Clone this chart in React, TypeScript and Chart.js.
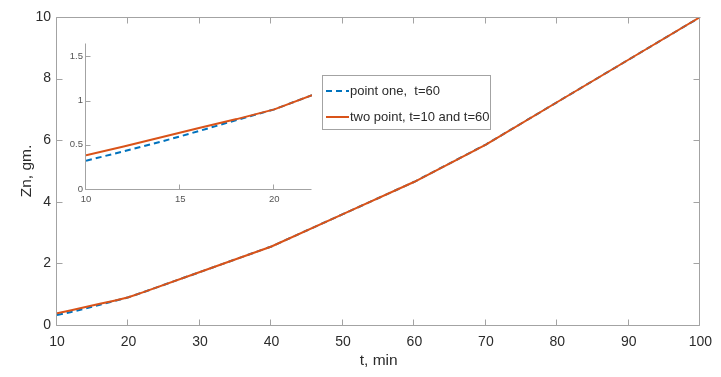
import React, { useEffect, useRef } from "react";
import { Chart, registerables } from "chart.js";

Chart.register(...registerables);

// ---- data ----
const times = [10, 12, 14, 16, 18, 20, 22, 30, 40, 50, 60, 70, 80, 90, 100];
const pointOne = [0.32, 0.425, 0.535, 0.655, 0.78, 0.9, 1.06, 1.72, 2.55, 3.6, 4.65, 5.86, 7.24, 8.62, 10];
const twoPoint = [0.38, 0.48, 0.585, 0.69, 0.79, 0.9, 1.06, 1.72, 2.55, 3.6, 4.65, 5.86, 7.24, 8.62, 10];
const seriesLabels = ["point one,  t=60", "two point, t=10 and t=60"];
const mainXTicks = [10, 20, 30, 40, 50, 60, 70, 80, 90, 100];
const mainYTicks = [0, 2, 4, 6, 8, 10];
const insetXTicks = [10, 15, 20];
const insetYTicks = [0, 0.5, 1, 1.5];

const FONT = "'Liberation Sans', Arial, Helvetica, sans-serif";
const BLUE = "#0072BD";
const ORANGE = "#D95319";
const AXIS = "#a3a3a3";
const TEXT = "#2b2b2b";

const axesPlugin = {
  id: "axesFrame",
  afterDraw(chart: any, _args: any, opts: any) {
    const { ctx, chartArea } = chart;
    const { left, right, top, bottom } = chartArea;
    const xs = chart.scales.x;
    const ys = chart.scales.y;
    const len = opts.tickLen || 5;
    ctx.save();
    ctx.strokeStyle = AXIS;
    ctx.lineWidth = 1;
    ctx.beginPath();
    const L = Math.round(left) - 0.5;
    const B = Math.round(bottom) + 0.5;
    const R = Math.round(right) - 0.5;
    const T = Math.round(top) + 0.5;
    ctx.moveTo(L, T);
    ctx.lineTo(L, B);
    ctx.lineTo(R, B);
    if (opts.box) {
      ctx.lineTo(R, T);
      ctx.lineTo(L, T);
    }
    xs.ticks.forEach((t: any) => {
      const px = Math.round(xs.getPixelForValue(t.value)) - 0.5;
      ctx.moveTo(px, B);
      ctx.lineTo(px, B - len);
      if (opts.box) {
        ctx.moveTo(px, T);
        ctx.lineTo(px, T + len);
      }
    });
    ys.ticks.forEach((t: any) => {
      const py = Math.round(ys.getPixelForValue(t.value)) + 0.5;
      ctx.moveTo(L, py);
      ctx.lineTo(L + len, py);
      if (opts.box) {
        ctx.moveTo(R, py);
        ctx.lineTo(R - len, py);
      }
    });
    ctx.stroke();

    if (opts.legend) {
      const lg = opts.legend;
      ctx.fillStyle = "#ffffff";
      ctx.fillRect(lg.x, lg.y, lg.w, lg.h);
      ctx.strokeStyle = AXIS;
      ctx.strokeRect(lg.x + 0.5, lg.y + 0.5, lg.w, lg.h);
      chart.data.datasets.forEach((ds: any, i: number) => {
        const cy = lg.y + lg.first + i * lg.gap;
        ctx.beginPath();
        ctx.strokeStyle = ds.borderColor;
        ctx.lineWidth = ds.borderWidth;
        ctx.setLineDash(ds.borderDash || []);
        ctx.moveTo(lg.x + 4, cy);
        ctx.lineTo(lg.x + 27, cy);
        ctx.stroke();
        ctx.setLineDash([]);
        ctx.fillStyle = TEXT;
        ctx.font = `13px ${FONT}`;
        ctx.textBaseline = "middle";
        ctx.textAlign = "left";
        ctx.fillText(ds.label, lg.x + 28, cy);
      });
    }
    ctx.restore();
  },
};

function makeDatasets() {
  return [
    {
      label: seriesLabels[0],
      data: times.map((t, i) => ({ x: t, y: pointOne[i] })),
      borderColor: BLUE,
      borderWidth: 2,
      borderDash: [6, 4],
      pointRadius: 0,
      tension: 0,
      fill: false,
      order: 1,
    },
    {
      label: seriesLabels[1],
      data: times.map((t, i) => ({ x: t, y: twoPoint[i] })),
      borderColor: ORANGE,
      borderWidth: 2,
      pointRadius: 0,
      tension: 0,
      fill: false,
      order: 0,
    },
  ];
}

export default function App() {
  const mainRef = useRef<HTMLCanvasElement>(null);
  const insetRef = useRef<HTMLCanvasElement>(null);

  useEffect(() => {
    const main = new Chart(mainRef.current as HTMLCanvasElement, {
      type: "line",
      data: { datasets: makeDatasets() as any },
      plugins: [axesPlugin],
      options: {
        animation: false,
        responsive: false,
        maintainAspectRatio: false,
        layout: { padding: { left: 0, top: 17, right: 16, bottom: 0 } },
        plugins: {
          legend: { display: false },
          tooltip: { enabled: false },
          axesFrame: {
            box: true,
            tickLen: 6,
            legend: { x: 322, y: 75, w: 168, h: 54, first: 16, gap: 26 },
          },
        } as any,
        scales: {
          x: {
            type: "linear",
            min: 10,
            max: 100,
            afterFit: (s: any) => { s.height = 52; },
            afterBuildTicks: (s: any) => { s.ticks = mainXTicks.map((v) => ({ value: v })); },
            grid: { display: false, drawTicks: false },
            border: { display: false },
            ticks: {
              padding: 9,
              color: TEXT,
              font: { size: 14, family: FONT },
              maxRotation: 0,
              autoSkip: false,
              callback: (v: any) => String(v),
            },
            title: {
              display: true,
              text: "t, min",
              color: TEXT,
              font: { size: 15.5, family: FONT },
              padding: { top: 0, bottom: 7 },
            },
          },
          y: {
            type: "linear",
            min: 0,
            max: 10,
            afterFit: (s: any) => { s.width = 57; },
            afterBuildTicks: (s: any) => { s.ticks = mainYTicks.map((v) => ({ value: v })); },
            grid: { display: false, drawTicks: false },
            border: { display: false },
            ticks: {
              padding: 6,
              color: TEXT,
              font: { size: 14, family: FONT },
              autoSkip: false,
              callback: (v: any) => String(v),
            },
            title: {
              display: true,
              text: "Zn, gm.",
              color: TEXT,
              font: { size: 15.5, family: FONT },
              padding: { top: 17, bottom: 0 },
            },
          },
        },
      } as any,
    });

    const inset = new Chart(insetRef.current as HTMLCanvasElement, {
      type: "line",
      data: { datasets: makeDatasets() as any },
      plugins: [axesPlugin],
      options: {
        animation: false,
        responsive: false,
        maintainAspectRatio: false,
        layout: { padding: { left: 0, top: 13, right: 14, bottom: 0 } },
        plugins: {
          legend: { display: false },
          tooltip: { enabled: false },
          axesFrame: { box: false, tickLen: 5 },
        } as any,
        scales: {
          x: {
            type: "linear",
            min: 10,
            max: 22,
            afterFit: (s: any) => { s.height = 26; },
            afterBuildTicks: (s: any) => { s.ticks = insetXTicks.map((v) => ({ value: v })); },
            grid: { display: false, drawTicks: false },
            border: { display: false },
            ticks: {
              padding: 5,
              color: "#555555",
              font: { size: 9.5, family: FONT },
              maxRotation: 0,
              autoSkip: false,
              callback: (v: any) => String(v),
            },
          },
          y: {
            type: "linear",
            min: 0,
            max: 1.65,
            afterFit: (s: any) => { s.width = 30; },
            afterBuildTicks: (s: any) => { s.ticks = insetYTicks.map((v) => ({ value: v })); },
            grid: { display: false, drawTicks: false },
            border: { display: false },
            ticks: {
              padding: 3,
              color: "#555555",
              font: { size: 9.5, family: FONT },
              autoSkip: false,
              callback: (v: any) => String(v),
            },
          },
        },
      } as any,
    });

    return () => {
      main.destroy();
      inset.destroy();
    };
  }, []);

  return (
    <div style={{ position: "fixed", left: 0, top: 0, width: 721, height: 377, background: "#ffffff" }}>
      <canvas ref={mainRef} width={721} height={377} style={{ position: "absolute", left: 0, top: 0, width: 721, height: 377 }} />
      <canvas ref={insetRef} width={270} height={185} style={{ position: "absolute", left: 56, top: 30, width: 270, height: 185 }} />
    </div>
  );
}
